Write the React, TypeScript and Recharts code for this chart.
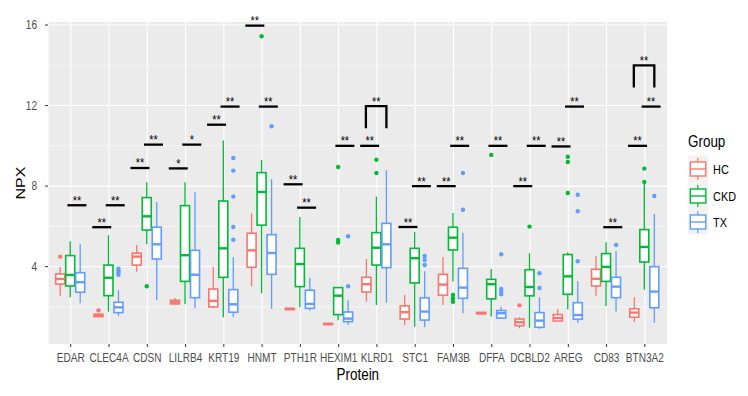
import React from 'react';
import { ComposedChart, Bar, XAxis, YAxis, CartesianGrid } from 'recharts';

const proteins = ['EDAR', 'CLEC4A', 'CDSN', 'LILRB4', 'KRT19', 'HNMT', 'PTH1R', 'HEXIM1', 'KLRD1', 'STC1', 'FAM3B', 'DFFA', 'DCBLD2', 'AREG', 'CD83', 'BTN3A2'];
const groups = ['HC', 'CKD', 'TX'];
const groupColors = ['#F8766D', '#00BA38', '#619CFF'];
const yTicks = [4, 8, 12, 16];
const yMinor = [2, 6, 10, 14];

// [lower whisker, Q1, median, Q3, upper whisker]
const hcStats = [
  [2.56, 3.14, 3.39, 3.64, 4.0],
  [1.5, 1.52, 1.57, 1.64, 1.66],
  [3.75, 4.08, 4.5, 4.67, 5.08],
  [2.13, 2.15, 2.23, 2.33, 2.45],
  [1.95, 2.0, 2.3, 2.89, 3.99],
  [3.03, 3.97, 4.81, 5.66, 6.65],
  [1.86, 1.87, 1.9, 1.93, 1.94],
  [1.12, 1.13, 1.15, 1.18, 1.19],
  [2.26, 2.74, 3.13, 3.47, 4.38],
  [1.1, 1.4, 1.74, 2.05, 2.59],
  [2.1, 2.58, 3.11, 3.62, 4.48],
  [1.65, 1.66, 1.69, 1.73, 1.74],
  [0.94, 1.07, 1.24, 1.4, 1.49],
  [1.29, 1.3, 1.45, 1.62, 1.89],
  [2.55, 3.04, 3.4, 3.87, 4.53],
  [1.25, 1.49, 1.72, 1.91, 2.48],
];
const ckdStats = [
  [2.48, 3.04, 3.59, 4.55, 5.26],
  [1.77, 2.56, 3.45, 4.08, 5.56],
  [5.13, 5.82, 6.5, 7.43, 8.19],
  [2.13, 3.27, 4.57, 7.03, 8.19],
  [1.49, 3.47, 4.91, 7.26, 10.26],
  [2.68, 6.06, 7.71, 8.67, 9.3],
  [1.98, 3.01, 4.13, 4.91, 6.47],
  [1.34, 1.62, 2.56, 2.96, 2.98],
  [2.1, 4.08, 4.94, 5.69, 7.48],
  [1.02, 3.19, 4.42, 4.91, 5.74],
  [3.26, 4.83, 5.44, 5.96, 6.67],
  [1.52, 2.4, 3.13, 3.37, 3.89],
  [0.97, 2.55, 2.99, 3.85, 4.67],
  [1.89, 2.63, 3.52, 4.6, 4.71],
  [2.05, 3.27, 3.99, 4.65, 5.21],
  [2.86, 4.23, 4.98, 5.84, 8.19],
];
const txStats = [
  [2.18, 2.73, 3.23, 3.7, 5.13],
  [1.55, 1.72, 1.98, 2.23, 2.83],
  [2.35, 4.38, 5.11, 5.96, 7.21],
  [1.93, 2.46, 3.6, 4.81, 7.69],
  [1.49, 1.74, 2.13, 2.86, 4.47],
  [1.9, 3.62, 4.68, 5.59, 8.34],
  [1.82, 1.93, 2.15, 2.83, 3.44],
  [1.1, 1.27, 1.42, 1.75, 2.33],
  [2.21, 3.95, 5.11, 6.15, 8.79],
  [0.99, 1.35, 1.77, 2.45, 3.77],
  [1.69, 2.43, 2.96, 3.92, 5.69],
  [1.44, 1.45, 1.69, 1.82, 2.01],
  [0.91, 0.99, 1.32, 1.72, 2.48],
  [1.22, 1.39, 1.6, 2.21, 3.27],
  [1.77, 2.46, 3.01, 3.47, 4.78],
  [1.22, 1.96, 2.76, 4.0, 6.62],
];

const hcOutliers = [[4.5], [1.83], [], [], [], [], [], [], [], [], [], [], [2.08], [], [], []];
const ckdOutliers = [[], [], [3.03], [], [], [15.44], [], [8.95, 5.33, 5.2], [9.31, 8.65], [], [2.59, 2.43, 2.26], [9.55], [5.99], [9.46, 9.2, 7.66], [], [8.87, 8.21]];
const txOutliers = [[], [3.9, 3.8, 3.7, 3.6], [], [], [9.4, 8.77, 7.48, 5.97, 5.34], [10.97], [], [5.51, 3.03], [], [4.53, 4.33, 4.08], [8.65, 6.83], [4.62, 2.89, 2.76, 2.63], [3.67, 2.94], [7.57, 6.75, 4.27], [5.08], [7.51]];

// significance annotations: groups compared (index), height, label, tip length
const brackets = [
  { protein: 'EDAR', from: 1, to: 2, y: 7.05, label: '**', tip: 0 },
  { protein: 'CLEC4A', from: 0, to: 1, y: 5.96, label: '**', tip: 0 },
  { protein: 'CLEC4A', from: 1, to: 2, y: 7.05, label: '**', tip: 0 },
  { protein: 'CDSN', from: 0, to: 1, y: 8.9, label: '**', tip: 0 },
  { protein: 'CDSN', from: 1, to: 2, y: 10.06, label: '**', tip: 0 },
  { protein: 'LILRB4', from: 0, to: 1, y: 8.88, label: '*', tip: 0 },
  { protein: 'LILRB4', from: 1, to: 2, y: 10.06, label: '*', tip: 0 },
  { protein: 'KRT19', from: 0, to: 1, y: 11.05, label: '**', tip: 0 },
  { protein: 'KRT19', from: 1, to: 2, y: 11.95, label: '**', tip: 0 },
  { protein: 'HNMT', from: 0, to: 1, y: 15.97, label: '**', tip: 0 },
  { protein: 'HNMT', from: 1, to: 2, y: 11.95, label: '**', tip: 0 },
  { protein: 'PTH1R', from: 0, to: 1, y: 8.09, label: '**', tip: 0 },
  { protein: 'PTH1R', from: 1, to: 2, y: 6.93, label: '**', tip: 0 },
  { protein: 'HEXIM1', from: 1, to: 2, y: 10.0, label: '**', tip: 0 },
  { protein: 'KLRD1', from: 0, to: 1, y: 10.0, label: '**', tip: 0 },
  { protein: 'KLRD1', from: 0, to: 2, y: 11.97, label: '**', tip: 1.1 },
  { protein: 'STC1', from: 0, to: 1, y: 5.97, label: '**', tip: 0 },
  { protein: 'STC1', from: 1, to: 2, y: 8.0, label: '**', tip: 0 },
  { protein: 'FAM3B', from: 0, to: 1, y: 8.0, label: '**', tip: 0 },
  { protein: 'FAM3B', from: 1, to: 2, y: 10.0, label: '**', tip: 0 },
  { protein: 'DFFA', from: 1, to: 2, y: 10.0, label: '**', tip: 0 },
  { protein: 'DCBLD2', from: 0, to: 1, y: 8.0, label: '**', tip: 0 },
  { protein: 'DCBLD2', from: 1, to: 2, y: 10.0, label: '**', tip: 0 },
  { protein: 'AREG', from: 0, to: 1, y: 9.97, label: '**', tip: 0 },
  { protein: 'AREG', from: 1, to: 2, y: 11.95, label: '**', tip: 0 },
  { protein: 'CD83', from: 1, to: 2, y: 5.96, label: '**', tip: 0 },
  { protein: 'BTN3A2', from: 0, to: 1, y: 10.0, label: '**', tip: 0 },
  { protein: 'BTN3A2', from: 1, to: 2, y: 11.95, label: '**', tip: 0 },
  { protein: 'BTN3A2', from: 0, to: 2, y: 14.0, label: '**', tip: 1.1 },
];

const statsByGroup = [hcStats, ckdStats, txStats];
const outliersByGroup = [hcOutliers, ckdOutliers, txOutliers];

const data = proteins.map((name, i) => {
  const row: any = { name, idx: i };
  groups.forEach((g, gi) => {
    const s = statsByGroup[gi][i];
    const o = outliersByGroup[gi][i];
    row[g] = [Math.min(s[0], ...o), Math.max(s[4], ...o)];
  });
  return row;
});

const FONT = "'Liberation Sans', Arial, Helvetica, sans-serif";
const SQ = 0.84;

const makeShape = (gi: number) => (props: any) => {
  const { x, y, width, height, payload } = props;
  if (x == null || !payload) return <g />;
  const i = payload.idx;
  const s = statsByGroup[gi][i];
  const out = outliersByGroup[gi][i];
  const [lo, hi] = payload[groups[gi]];
  const py = (v: number) => (hi === lo ? y : y + ((hi - v) / (hi - lo)) * height);
  const cx = x + width / 2;
  const bw = width * 0.9;
  const color = groupColors[gi];
  const bs = gi === 1 ? brackets.filter((b) => b.protein === payload.name) : [];
  return (
    <g>
      <line x1={cx} x2={cx} y1={py(s[4])} y2={py(s[3])} stroke={color} strokeWidth={1.3} />
      <line x1={cx} x2={cx} y1={py(s[1])} y2={py(s[0])} stroke={color} strokeWidth={1.3} />
      <rect x={cx - bw / 2} y={py(s[3])} width={bw} height={Math.max(py(s[1]) - py(s[3]), 0.5)} fill="#FFFFFF" stroke={color} strokeWidth={1.6} />
      <line x1={cx - bw / 2} x2={cx + bw / 2} y1={py(s[2])} y2={py(s[2])} stroke={color} strokeWidth={2.4} />
      {out.map((v, k) => (
        <circle key={k} cx={cx} cy={py(v)} r={2.2} fill={color} />
      ))}
      {bs.map((b, k) => {
        let x1: number;
        let x2: number;
        if (b.to - b.from > 1) {
          x1 = cx + (b.from - 1) * width - 0.05 * width;
          x2 = cx + (b.to - 1) * width;
        } else {
          const c = cx + ((b.from + b.to) / 2 - 1) * 1.35 * width;
          x1 = c - 0.95 * width;
          x2 = c + 0.95 * width;
        }
        const ly = py(b.y);
        const tx = (x1 + x2) / 2;
        return (
          <g key={'b' + k}>
            {b.tip > 0 ? (
              <path d={`M${x1},${py(b.y - b.tip)} L${x1},${ly} L${x2},${ly} L${x2},${py(b.y - b.tip)}`} fill="none" stroke="#000" strokeWidth={2.3} />
            ) : (
              <line x1={x1} x2={x2} y1={ly} y2={ly} stroke="#000" strokeWidth={2.3} />
            )}
            <text transform={`translate(${tx},${ly - 0.5}) scale(${SQ},1)`} textAnchor="middle" fontSize={13} fontFamily={FONT} fill="#000">
              {b.label}
            </text>
          </g>
        );
      })}
    </g>
  );
};

const XTick = (props: any) => {
  const { x, y, payload } = props;
  return (
    <text transform={`translate(${x},${y + 12.5}) scale(${SQ},1)`} textAnchor="middle" fontSize={12} fontFamily={FONT} fill="#4D4D4D">
      {payload.value}
    </text>
  );
};

const YTick = (props: any) => {
  const { x, y, payload } = props;
  return (
    <text transform={`translate(${x},${y + 4.3}) scale(${SQ},1)`} textAnchor="end" fontSize={12} fontFamily={FONT} fill="#4D4D4D">
      {payload.value}
    </text>
  );
};

const XTitle = (props: any) => {
  const vb = props.viewBox || { x: 0, y: 0, width: 0, height: 0 };
  return (
    <text transform={`translate(${vb.x + vb.width / 2},${vb.y + 36}) scale(${SQ},1)`} textAnchor="middle" fontSize={16} fontFamily={FONT} fill="#000">
      Protein
    </text>
  );
};

const YTitle = (props: any) => {
  const vb = props.viewBox || { x: 0, y: 0, width: 0, height: 0 };
  return (
    <text transform={`translate(${vb.x + 17},${vb.y + vb.height / 2}) scale(${SQ},1) rotate(-90)`} textAnchor="middle" fontSize={16} fontFamily={FONT} fill="#000">
      NPX
    </text>
  );
};

const LegendOverlay = () => {
  const keyX = 680.3;
  const centers = [161, 188, 214];
  return (
    <svg width={732} height={380} style={{ position: 'absolute', left: 0, top: 0, pointerEvents: 'none' }}>
      <text transform={`translate(680,138.7) scale(${SQ},1)`} fontSize={16} fontFamily={FONT} fill="#000">
        Group
      </text>
      <rect x={keyX} y={147.5} width={20} height={79} fill="#F2F2F2" />
      {groups.map((g, gi) => {
        const c = centers[gi];
        const col = groupColors[gi];
        const mx = keyX + 9.5;
        return (
          <g key={g}>
            <line x1={mx} x2={mx} y1={c - 11} y2={c + 11} stroke={col} strokeWidth={1.2} />
            <rect x={keyX + 2} y={c - 7} width={15.5} height={14} fill="#FFFFFF" stroke={col} strokeWidth={1.4} />
            <line x1={keyX + 2} x2={keyX + 17.5} y1={c} y2={c} stroke={col} strokeWidth={1.4} />
            <text transform={`translate(705,${c + 4.5}) scale(${SQ},1)`} fontSize={13} fontFamily={FONT} fill="#000">
              {g}
            </text>
          </g>
        );
      })}
    </svg>
  );
};

export default function App() {
  return (
    <div style={{ position: 'relative', width: 732, height: 380 }}>
      <ComposedChart
        width={732}
        height={380}
        data={data}
        margin={{ top: 14, right: 72.4, bottom: 0, left: 0 }}
        barCategoryGap={3.6}
        barGap={0}
      >
        <CartesianGrid fill="#EBEBEB" stroke="#FFFFFF" strokeWidth={1.1} strokeDasharray="" horizontalValues={yTicks} />
        <CartesianGrid fill="none" stroke="#FFFFFF" strokeWidth={0.55} strokeDasharray="" vertical={false} horizontalValues={yMinor} />
        <XAxis
          dataKey="name"
          type="category"
          interval={0}
          padding={{ left: 3.6, right: 3.6 }}
          height={44}
          axisLine={false}
          tickLine={{ stroke: '#333333', strokeWidth: 1 }}
          tickSize={3}
          tick={<XTick />}
          label={<XTitle />}
        />
        <YAxis
          type="number"
          domain={[0.16, 16.15]}
          ticks={yTicks}
          width={40}
          axisLine={false}
          tickLine={{ stroke: '#333333', strokeWidth: 1 }}
          tickSize={3}
          tickMargin={8}
          tick={<YTick />}
          label={<YTitle />}
        />
        {groups.map((g, gi) => (
          <Bar key={g} dataKey={g} isAnimationActive={false} shape={makeShape(gi)} fill={groupColors[gi]} />
        ))}
      </ComposedChart>
      <LegendOverlay />
    </div>
  );
}
